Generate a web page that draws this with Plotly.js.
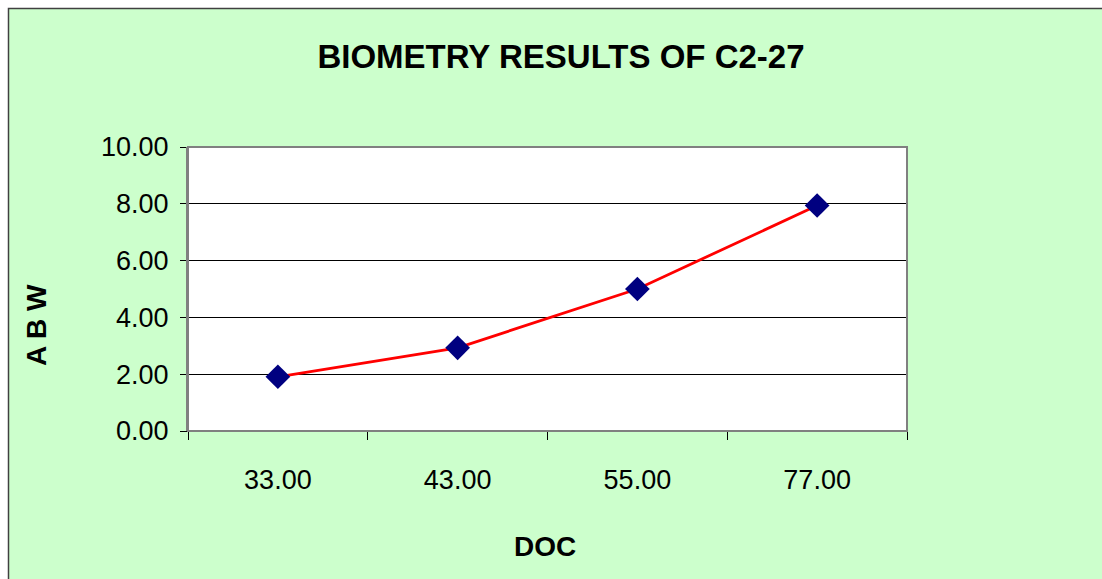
<!DOCTYPE html>
<html>
<head>
<meta charset="utf-8">
<script src="https://cdn.plot.ly/plotly-3.0.1.min.js"></script>
<style>
html,body{margin:0;padding:0;background:#ffffff;}
#chart{width:1102px;height:579px;}
</style>
</head>
<body>
<div id="chart"></div>
<script>
const chartTitle = 'BIOMETRY RESULTS OF C2-27';
const xAxisTitle = 'DOC';
const yAxisTitle = 'A B W';
const categories = ['33.00', '43.00', '55.00', '77.00'];
const abwValues = [1.91, 2.93, 5.00, 7.94];
const yTickValues = [0, 2, 4, 6, 8, 10];

const FONT = '"Liberation Sans Narrow", "Arial Narrow", "Liberation Sans", Arial, sans-serif';
const L = 188, R = 195, T = 147, B = 148, W = 1102, H = 579;
const pw = W - L - R, ph = H - T - B;
const px = v => (v - L) / pw;
const py = v => (H - B - v) / ph;

const trace = {
  x: categories,
  y: abwValues,
  type: 'scatter',
  mode: 'lines+markers',
  line: {color: '#ff0000', width: 2.8},
  marker: {symbol: 'diamond', color: '#000080', size: 19, line: {width: 0}},
  hoverinfo: 'skip',
  cliponaxis: false
};

const layout = {
  width: W, height: H,
  margin: {l: L, r: R, t: T, b: B, pad: 0},
  paper_bgcolor: '#ffffff',
  plot_bgcolor: 'rgba(0,0,0,0)',
  showlegend: false,
  font: {family: FONT, color: '#000000', size: 27},
  title: {
    text: chartTitle,
    font: {family: FONT, size: 33, color: '#000000', weight: 'bold'},
    xref: 'container', x: 561 / W, xanchor: 'center',
    yref: 'container', y: 1 - 56 / H, yanchor: 'middle'
  },
  xaxis: {
    type: 'category',
    tickson: 'boundaries',
    ticks: 'outside', ticklen: 8, tickwidth: 1, tickcolor: '#000000',
    showgrid: false, zeroline: false,
    showline: true, linecolor: '#000000', linewidth: 1,
    tickfont: {family: FONT, size: 27, color: '#000000'},
    ticklabelstandoff: 25,
    range: [-0.5, 3.5],
    fixedrange: true
  },
  yaxis: {
    range: [0, 10],
    tickvals: yTickValues,
    ticktext: yTickValues.map(v => v.toFixed(2)),
    ticks: 'outside', ticklen: 6, tickwidth: 1, tickcolor: '#000000',
    showgrid: true, gridcolor: '#000000', gridwidth: 1,
    zeroline: false,
    showline: true, linecolor: '#808080', linewidth: 2,
    tickfont: {family: FONT, size: 27, color: '#000000'},
    ticklabelstandoff: 6,
    fixedrange: true
  },
  shapes: [
    {type: 'rect', xref: 'paper', yref: 'paper', layer: 'below',
     x0: px(8.5), x1: px(1115), y0: py(600), y1: py(8.5),
     fillcolor: '#ccffcc', line: {color: '#404040', width: 1.5}},
    {type: 'rect', xref: 'paper', yref: 'paper', layer: 'below',
     x0: 0, x1: 1, y0: 0, y1: 1,
     fillcolor: '#ffffff', line: {width: 0}},
    {type: 'rect', xref: 'paper', yref: 'paper', layer: 'above',
     x0: 0, x1: 1, y0: 0, y1: 1,
     fillcolor: 'rgba(0,0,0,0)', line: {color: '#808080', width: 2}}
  ],
  annotations: [
    {text: xAxisTitle, xref: 'paper', yref: 'paper', showarrow: false,
     x: px(545), y: py(546), xanchor: 'center', yanchor: 'middle',
     font: {family: FONT, size: 28, color: '#000000', weight: 'bold'}},
    {text: yAxisTitle, xref: 'paper', yref: 'paper', showarrow: false,
     x: px(36), y: py(325), xanchor: 'center', yanchor: 'middle', textangle: -90,
     font: {family: FONT, size: 28, color: '#000000', weight: 'bold'}}
  ]
};

Plotly.newPlot('chart', [trace], layout, {displayModeBar: false, staticPlot: true});
</script>
</body>
</html>
